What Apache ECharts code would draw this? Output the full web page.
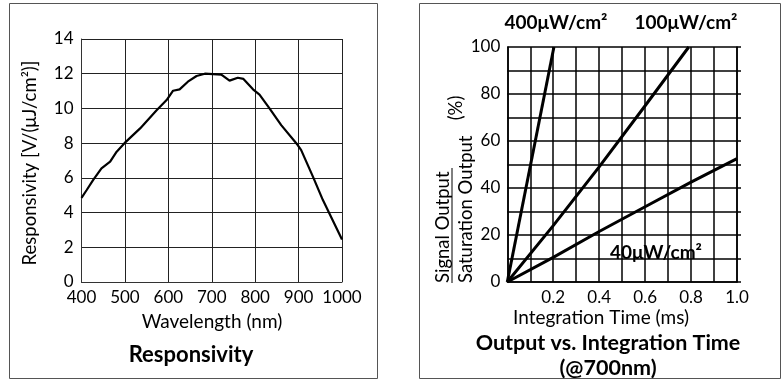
<!DOCTYPE html>
<html><head><meta charset="utf-8">
<script src="https://cdn.jsdelivr.net/npm/echarts@6/dist/echarts.min.js"></script>
<style>html,body{margin:0;padding:0;background:#fff}#c{width:783px;height:381px}</style>
</head><body><div id="c"></div>
<script>
// Responsivity curve (wavelength nm, V/(uJ/cm2))
const wavelength = [400,412,427,446,466,481,499,535,573,596,611,626,645,665,684,703,722,741,760,773,795,810,833,860,898,906,933,956,1000];
const responsivity = [4.85,5.3,5.88,6.55,6.93,7.51,8.0,8.85,9.9,10.48,11.02,11.1,11.54,11.87,12.0,11.98,11.95,11.6,11.77,11.7,11.1,10.8,10.0,9.04,7.89,7.6,6.07,4.72,2.45];
// Output vs integration time (ms, %)
const time400 = [0, 0.203];
const out400 = [0, 100];
const time100 = [0, 0.2, 0.4, 0.6, 0.79];
const out100 = [0, 24, 49, 75, 100];
const time40 = [0, 0.2, 0.4, 0.6, 0.8, 1.0];
const out40 = [0, 10.5, 21.5, 32, 42.5, 52.5];
const rightXLabels = {2:'0.2',4:'0.4',6:'0.6',8:'0.8',10:'1.0'};

const FONT = 'Lato, "Open Sans", sans-serif';
const zip = (a,b) => a.map((v,i)=>[v,b[i]]);
const chart = echarts.init(document.getElementById('c'), null, {renderer:'canvas'});

const lblStyle = {color:'#000', fontSize:17, fontFamily:FONT};
chart.setOption({
  animation:false,
  grid:[
    {left:81.5, right:441, top:39, bottom:99},
    {left:507.3, right:46, top:47, bottom:99}
  ],
  xAxis:[
    {gridIndex:0, type:'value', min:400, max:1000, interval:100,
     axisLine:{show:true, lineStyle:{color:'#333', width:1}}, axisTick:{show:false},
     axisLabel:Object.assign({margin:7, formatter:v=>String(v)}, lblStyle),
     splitLine:{show:true, lineStyle:{color:'#222', width:1}}},
    {gridIndex:1, type:'value', min:0, max:1, interval:0.1,
     axisLine:{show:true, lineStyle:{color:'#000', width:1.5}}, axisTick:{show:false},
     axisLabel:Object.assign({margin:7, formatter:v=>rightXLabels[Math.round(v*10)]||''}, lblStyle),
     splitLine:{show:true, lineStyle:{color:'#000', width:1.5}}}
  ],
  yAxis:[
    {gridIndex:0, type:'value', min:0, max:14, interval:2,
     axisLine:{show:true, lineStyle:{color:'#333', width:1}}, axisTick:{show:false},
     axisLabel:Object.assign({margin:8}, lblStyle),
     splitLine:{show:true, lineStyle:{color:'#222', width:1}}},
    {gridIndex:1, type:'value', min:0, max:100, interval:10,
     axisLine:{show:true, lineStyle:{color:'#000', width:1.5}}, axisTick:{show:false},
     axisLabel:Object.assign({margin:7, formatter:v=> (Math.round(v)%20===0 ? String(Math.round(v)) : '')}, lblStyle),
     splitLine:{show:true, lineStyle:{color:'#000', width:1.5}}},
    {gridIndex:1, type:'value', min:0, max:100, interval:10, position:'right',
     axisLine:{show:true, lineStyle:{color:'#000', width:1.5}},
     axisTick:{show:true, length:4, lineStyle:{color:'#000', width:1.5}},
     axisLabel:{show:false}, splitLine:{show:false}}
  ],
  series:[
    {type:'line', xAxisIndex:0, yAxisIndex:0, data:zip(wavelength,responsivity), showSymbol:false, lineStyle:{color:'#000', width:2.2}},
    {type:'line', xAxisIndex:1, yAxisIndex:1, data:zip(time400,out400), showSymbol:false, lineStyle:{color:'#000', width:3}},
    {type:'line', xAxisIndex:1, yAxisIndex:1, data:zip(time100,out100), showSymbol:false, lineStyle:{color:'#000', width:3}},
    {type:'line', xAxisIndex:1, yAxisIndex:1, data:zip(time40,out40), showSymbol:false, lineStyle:{color:'#000', width:3}}
  ],
  graphic:[
    {type:'rect', shape:{x:9.5, y:3.5, width:368, height:375}, style:{fill:'none', stroke:'#555', lineWidth:1}, silent:true},
    {type:'rect', shape:{x:419.5, y:3.5, width:361, height:375}, style:{fill:'none', stroke:'#555', lineWidth:1}, silent:true},
    {type:'text', x:30, y:163, rotation:Math.PI/2, style:{text:'Responsivity [V/(μJ/cm²)]', font:'18.5px '+FONT, fill:'#000', textAlign:'center', textVerticalAlign:'middle'}},
    {type:'text', x:212, y:322, style:{text:'Wavelength (nm)', font:'19px '+FONT, fill:'#000', textAlign:'center', textVerticalAlign:'middle'}},
    {type:'text', x:191, y:355, style:{text:'Responsivity', font:'bold 22px '+FONT, fill:'#000', textAlign:'center', textVerticalAlign:'middle'}},
    {type:'text', x:556, y:23, style:{text:'400μW/cm²', font:'bold 19px '+FONT, fill:'#000', textAlign:'center', textVerticalAlign:'middle'}},
    {type:'text', x:686, y:23, style:{text:'100μW/cm²', font:'bold 19px '+FONT, fill:'#000', textAlign:'center', textVerticalAlign:'middle'}},
    {type:'text', x:656, y:253, style:{text:'40μW/cm²', font:'bold 19px '+FONT, fill:'#000', textAlign:'center', textVerticalAlign:'middle'}},
    {type:'text', x:443, y:283, rotation:Math.PI/2, style:{text:'Signal Output', font:'18.5px '+FONT, fill:'#000', textAlign:'left', textVerticalAlign:'middle'}},
    {type:'line', shape:{x1:452, y1:168, x2:452, y2:283}, style:{stroke:'#000', lineWidth:1}},
    {type:'text', x:466, y:283, rotation:Math.PI/2, style:{text:'Saturation Output', font:'18.5px '+FONT, fill:'#000', textAlign:'left', textVerticalAlign:'middle'}},
    {type:'text', x:456, y:108, rotation:Math.PI/2, style:{text:'(%)', font:'18.5px '+FONT, fill:'#000', textAlign:'center', textVerticalAlign:'middle'}},
    {type:'text', x:601, y:318, style:{text:'Integration Time (ms)', font:'19px '+FONT, fill:'#000', textAlign:'center', textVerticalAlign:'middle'}},
    {type:'text', x:608, y:343, style:{text:'Output vs. Integration Time', font:'bold 21.5px '+FONT, fill:'#000', textAlign:'center', textVerticalAlign:'middle'}},
    {type:'text', x:608, y:368, style:{text:'(@700nm)', font:'bold 21.5px '+FONT, fill:'#000', textAlign:'center', textVerticalAlign:'middle'}}
  ]
});
</script></body></html>
